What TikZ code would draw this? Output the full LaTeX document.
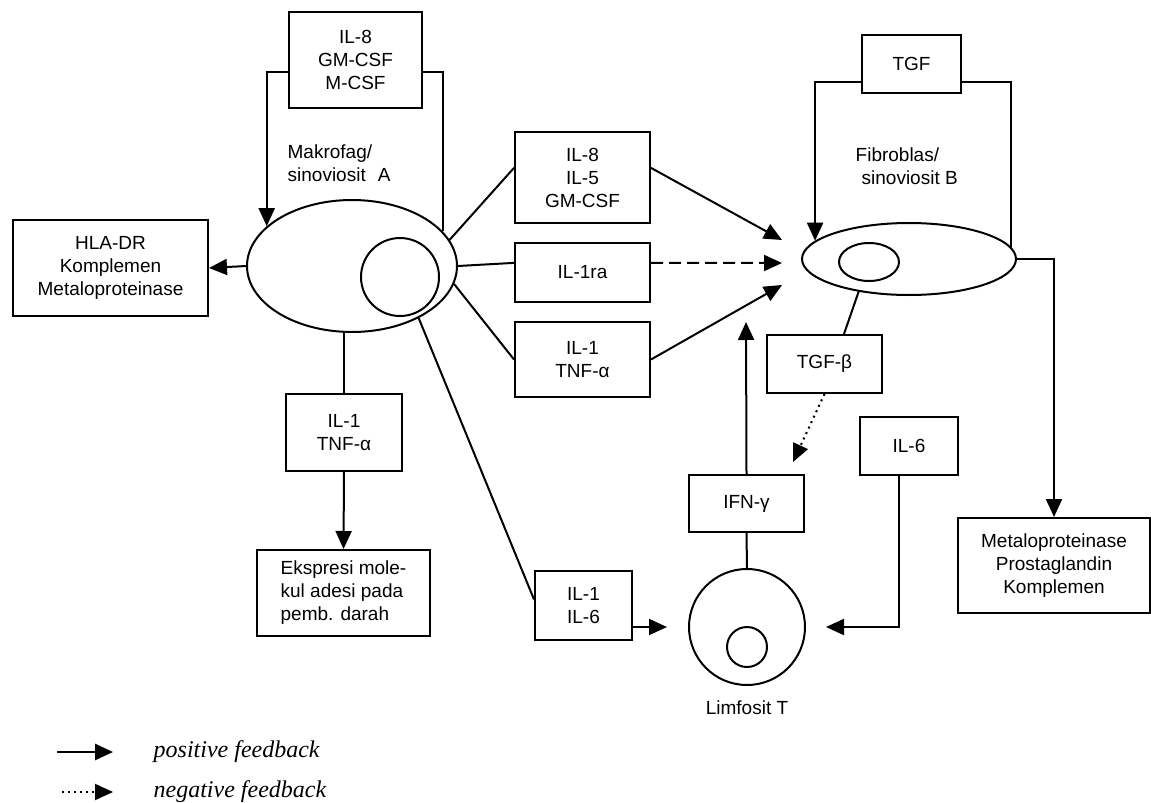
\documentclass[tikz,border=0pt]{standalone}
\usepackage{fontspec}
\setmainfont{Liberation Sans}
\newfontfamily\legendfont{Liberation Serif}
\usetikzlibrary{arrows.meta,shapes.geometric,calc}
\begin{document}
\begin{tikzpicture}[x=0.5pt,y=-0.5pt,
  font=\fontsize{9.5}{11.5}\selectfont, line width=1pt,
  box/.style={draw, rectangle, inner sep=0pt, align=center},
  cell/.style={draw, ellipse, inner sep=0pt},
  arr/.style={-{Triangle[length=9pt,width=8pt]}},
  legtext/.style={anchor=west, font={\fontsize{12}{14}\legendfont\itshape}}]
\useasboundingbox (0,0) rectangle (1151,803);

% cells
\node[cell, minimum width=105pt, minimum height=66pt] (A) at (352,266) {};
\node[draw, circle, inner sep=0pt, minimum size=39pt] (An) at (400,277) {};
\node[cell, minimum width=107pt, minimum height=36pt] (B) at (909,259) {};
\node[cell, minimum width=30pt, minimum height=19pt] (Bn) at (869,262) {};
\node[draw, circle, inner sep=0pt, minimum size=58pt] (L) at (747,627) {};
\node[draw, circle, inner sep=0pt, minimum size=20pt] (Ln) at (747,647) {};

% boxes
\node[box, minimum width=66.5pt, minimum height=48pt] (gm) at (355.5,60) {IL-8\\GM-CSF\\M-CSF};
\node[box, minimum width=97.5pt, minimum height=48pt] (hla) at (110.5,268) {HLA-DR\\Komplemen\\Metaloproteinase};
\node[box, minimum width=67.5pt, minimum height=45.5pt] (il8) at (582.5,177.5) {IL-8\\IL-5\\GM-CSF};
\node[box, minimum width=67.5pt, minimum height=29.5pt] (ra) at (582.5,272.5) {IL-1ra};
\node[box, minimum width=67.5pt, minimum height=37.5pt] (tnfA) at (582.5,359.5) {IL-1\\TNF-α};
\node[box, minimum width=58pt, minimum height=38.5pt] (tnfB) at (344,432.5) {IL-1\\TNF-α};
\node[box, minimum width=86.5pt, minimum height=43pt, align=left] (eks) at (343.5,593) {Ekspresi mole-\\kul adesi pada\\pemb. darah};
\node[box, minimum width=48.5pt, minimum height=34.5pt] (il16) at (583.5,605.5) {IL-1\\IL-6};
\node[box, minimum width=49.5pt, minimum height=29pt] (tgf) at (911.5,64) {TGF};
\node[box, minimum width=57.5pt, minimum height=29pt] (tgfb) at (824.5,364) {TGF-β};
\node[box, minimum width=57.5pt, minimum height=28.5pt] (ifn) at (746.5,503.5) {IFN-γ};
\node[box, minimum width=49pt, minimum height=29pt] (il6) at (909,446) {IL-6};
\node[box, minimum width=96pt, minimum height=47.5pt] (meta) at (1054,565.5) {Metaloproteinase\\Prostaglandin\\Komplemen};

% labels
\node[anchor=west, align=left] (lblA) at (280,163) {Makrofag/\\sinoviosit\hspace{6pt}A};
\node[anchor=west, align=left] (lblB) at (848,166) {Fibroblas/\\\hspace{3pt}sinoviosit B};
\node (lblL) at (747,708) {Limfosit T};

% free ends
\coordinate (t1) at (782,240);
\coordinate (t2) at (782,263);
\coordinate (t3) at (782,285);
\coordinate (t4) at (793,462);
\coordinate (t5) at (746,322);

% macrophage connections
\draw[arr] (gm.190) -| (A.155);
\draw (gm.-10) -| (A.21.5);
\draw[arr] (A.west) -- (hla.east);
\draw (A.15) -- (il8.172);
\draw (A.east) -- (ra.172);
\draw (A.-10) -- (tnfA.west);
\draw[arr] (il8.8) -- (t1);
\draw[arr, dashed, dash pattern=on 6pt off 3pt] (ra.8) -- (t2);
\draw[arr] (tnfA.east) -- (t3);
\draw (tnfB.north) -- (tnfB.north |- A.south);
\draw[arr] (tnfB.south) -- (eks.north);
\draw (A.-38.5) -- (il16.173);
\draw[arr, shorten >=10.5pt] (il16.east |- L.west) -- (L.west);

% fibroblast connections
\draw[arr] (tgf.200) -| (B.169);
\draw (tgf.-20) -| (B.7);
\draw[arr] (B.east) -| (meta.north);
\draw (B.213) -- (tgfb.57);
\draw[arr, dotted] (tgfb.south) -- (t4);
\draw ($(il6.north)+(-10,0)$) -- ($(il6.north)+(-10,0)$ |- B.south);
\draw[arr, shorten >=10pt] ($(il6.south)+(-10,0)$) |- (L.east);

% lymphocyte connections
\draw[arr] (ifn.north) -- (t5);
\draw (ifn.south) -- (L.north);

% legend
\coordinate (p1) at (57,752);
\coordinate (p2) at (113,752);
\coordinate (q1) at (62,792);
\coordinate (q2) at (113,792);
\draw[arr, line width=1.4pt] (p1) -- (p2);
\draw[arr, dotted] (q1) -- (q2);
\node[legtext] (pos) at (146,752) {positive feedback};
\node[legtext] (neg) at (146,792) {negative feedback};
\end{tikzpicture}
\end{document}
